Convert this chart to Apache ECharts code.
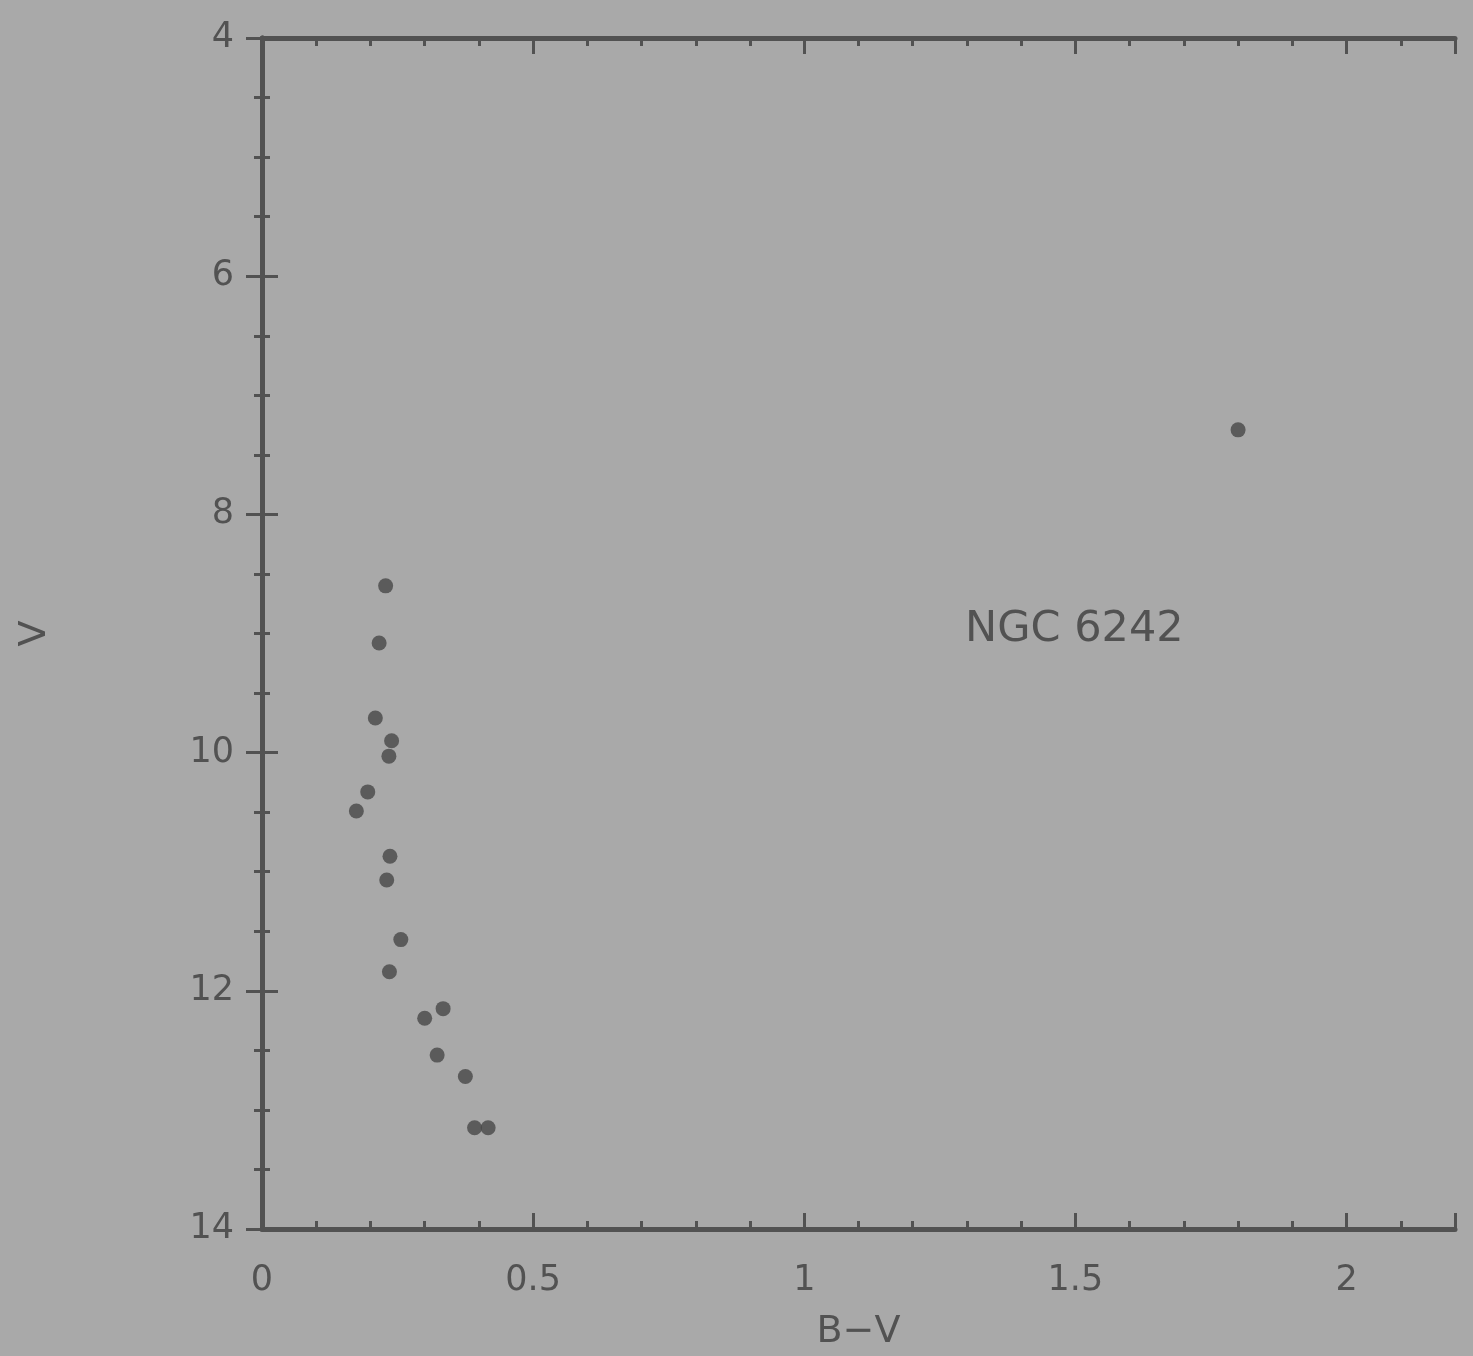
<!DOCTYPE html>
<html>
<head>
<meta charset="utf-8">
<script src="https://cdn.jsdelivr.net/npm/echarts@6/dist/echarts.min.js"></script>
<style>
html,body{margin:0;padding:0;background:#a9a9a9;}
#chart{width:1473px;height:1356px;}
</style>
</head>
<body>
<div id="chart"></div>
<script>
// B-V colour index of each star
const bvValues = [0.228, 0.216, 0.209, 0.239, 0.234, 0.195, 0.174, 0.236, 0.230, 0.256, 0.235, 0.300, 0.334, 0.323, 0.375, 0.392, 0.417, 1.80];
// V magnitude of each star
const vValues  = [8.60, 9.08, 9.71, 9.90, 10.03, 10.33, 10.49, 10.87, 11.07, 11.57, 11.84, 12.23, 12.15, 12.54, 12.72, 13.15, 13.15, 7.29];
const xTickLabels = ['0', '0.5', '1', '1.5', '2'];
const yTickLabels = ['4', '6', '8', '10', '12', '14'];
const clusterName = 'NGC 6242';

const points = bvValues.map((x, i) => [x, vValues[i]]);

const ink = '#525252';
const font = 'DejaVu Sans';

const chart = echarts.init(document.getElementById('chart'), null, {renderer: 'canvas'});

const baseX = {
  type: 'value', min: 0, max: 2.2, interval: 0.5,
  axisLine: {show: true, lineStyle: {color: ink, width: 5}},
  axisTick: {show: true, inside: true, length: 16, lineStyle: {color: ink, width: 3}},
  minorTick: {show: true, splitNumber: 5, length: 8, lineStyle: {color: ink, width: 3}},
  splitLine: {show: false},
  minorSplitLine: {show: false}
};
const baseY = {
  type: 'value', min: 4, max: 14, interval: 2, inverse: true,
  axisLine: {show: true, lineStyle: {color: ink, width: 5}},
  axisTick: {show: true, inside: true, length: 16, lineStyle: {color: ink, width: 3}},
  minorTick: {show: true, splitNumber: 4, length: 8, lineStyle: {color: ink, width: 3}},
  splitLine: {show: false},
  minorSplitLine: {show: false}
};

chart.setOption({
  backgroundColor: '#a9a9a9',
  animation: false,
  grid: {left: 262, top: 38, width: 1193, height: 1192, containLabel: false},
  xAxis: [
    Object.assign({}, baseX, {
      position: 'bottom',
      name: 'B\u2212V', nameLocation: 'middle', nameGap: 84,
      nameTextStyle: {color: ink, fontSize: 38, fontFamily: font},
      axisLabel: {
        show: true, margin: 34, color: ink, fontSize: 35, fontFamily: font,
        showMaxLabel: false,
        formatter: v => { const i = Math.round(v / 0.5); return (Math.abs(v - i * 0.5) < 1e-6 && xTickLabels[i] !== undefined) ? xTickLabels[i] : ''; }
      }
    }),
    Object.assign({}, baseX, {position: 'top', axisLabel: {show: false}})
  ],
  yAxis: [
    Object.assign({}, baseY, {
      position: 'left',
      name: 'V', nameLocation: 'middle', nameGap: 208, nameRotate: 90,
      nameTextStyle: {color: ink, fontSize: 38, fontFamily: font},
      axisLabel: {
        show: true, margin: 28, color: ink, fontSize: 35, fontFamily: font,
        formatter: v => { const i = Math.round((v - 4) / 2); return yTickLabels[i] !== undefined ? yTickLabels[i] : ''; }
      }
    }),
    Object.assign({}, baseY, {position: 'right', axisLabel: {show: false}})
  ],
  series: [{
    type: 'scatter',
    xAxisIndex: 0, yAxisIndex: 0,
    data: points,
    symbol: 'circle',
    symbolSize: 15,
    itemStyle: {color: '#474747'}
  }],
  graphic: [{
    type: 'text',
    left: 965, top: 608,
    style: {text: clusterName, fill: ink, font: '43px "DejaVu Sans"'}
  }]
});
</script>
</body>
</html>
